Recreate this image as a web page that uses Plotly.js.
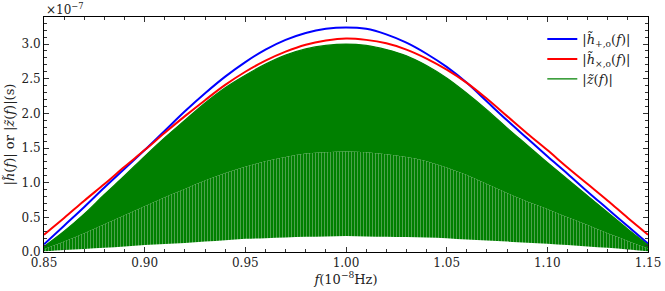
<!DOCTYPE html>
<html>
<head>
<meta charset="utf-8">
<script src="https://cdn.plot.ly/plotly-3.0.1.min.js"></script>
<style>html,body{margin:0;padding:0;background:#fff;}#chart{width:665px;height:291px;}</style>
</head>
<body>
<div id="chart"></div>
<script>
// frequency samples, units of 1e-8 Hz
const freq = [0.85,0.86,0.87,0.88,0.89,0.90,0.91,0.92,0.93,0.94,0.95,0.96,0.97,0.98,0.99,1.00,
              1.01,1.02,1.03,1.04,1.05,1.06,1.07,1.08,1.09,1.10,1.11,1.12,1.13,1.14,1.15];
// amplitudes, units of 1e-7 s
const hPlus = [0.11,0.38,0.65,0.93,1.20,1.47,1.75,2.03,2.29,2.53,2.74,2.92,3.06,3.16,3.22,3.24,
               3.22,3.14,3.02,2.86,2.67,2.44,2.17,1.90,1.64,1.38,1.13,0.87,0.62,0.37,0.12];
const hCross = [0.25,0.49,0.74,0.98,1.23,1.47,1.72,1.96,2.19,2.41,2.60,2.76,2.89,2.99,3.05,3.08,
                3.06,3.01,2.92,2.79,2.63,2.44,2.21,1.96,1.71,1.47,1.22,0.98,0.74,0.49,0.25];
// |z(f)| oscillates rapidly: upper envelope, dense-core boundary, lower envelope
const zUpper = [0.08,0.30,0.55,0.83,1.10,1.38,1.65,1.90,2.15,2.37,2.55,2.71,2.84,2.93,2.98,3.00,
                2.98,2.92,2.83,2.69,2.51,2.29,2.05,1.79,1.54,1.29,1.05,0.81,0.57,0.33,0.10];
const zMid = [0.04,0.15,0.27,0.40,0.53,0.66,0.79,0.91,1.03,1.14,1.23,1.31,1.37,1.42,1.44,1.45,
              1.44,1.41,1.37,1.31,1.22,1.11,0.98,0.85,0.73,0.62,0.50,0.39,0.27,0.16,0.05];
const zLower = [0.01,0.03,0.045,0.06,0.08,0.10,0.115,0.13,0.15,0.17,0.19,0.20,0.21,0.22,0.225,0.23,
                0.225,0.22,0.215,0.21,0.20,0.18,0.165,0.15,0.135,0.12,0.10,0.08,0.06,0.035,0.01];

const serif = "DejaVu Serif";
const green = "#008000";

const traces = [
  {x: freq, y: zLower, mode: "lines", line: {width: 0, shape: "spline"}, showlegend: false, hoverinfo: "skip"},
  {x: freq, y: zMid, mode: "lines", line: {width: 0, shape: "spline"}, fill: "tonexty",
   fillcolor: green,
   fillpattern: {shape: "|", bgcolor: green, fgcolor: "rgb(85,165,85)", size: 3, solidity: 0.3},
   showlegend: false, hoverinfo: "skip"},
  {x: freq, y: zUpper, mode: "lines", line: {width: 0, shape: "spline"}, fill: "tonexty",
   fillcolor: green, showlegend: false, hoverinfo: "skip"},
  {x: freq, y: hPlus, mode: "lines", name: "|<i>h̃</i><sub>+,o</sub>(<i>f</i>)|",
   line: {color: "#0000ff", width: 2, shape: "spline"}},
  {x: freq, y: hCross, mode: "lines", name: "|<i>h̃</i><sub>×,o</sub>(<i>f</i>)|",
   line: {color: "#ff0000", width: 2, shape: "spline"}},
  {x: freq, y: zUpper, mode: "lines", name: "|<i>z̃</i>(<i>f</i>)|",
   line: {color: green, width: 1.2, shape: "spline"}}
];

const axisCommon = {
  showline: true, linecolor: "#000", linewidth: 1, mirror: "ticks",
  ticks: "inside", ticklen: 5, tickwidth: 1, tickcolor: "#333",
  showgrid: false, zeroline: false,
  tickfont: {family: serif, size: 12, color: "#222"}
};

const layout = {
  width: 665, height: 291,
  margin: {l: 44, r: 17, t: 17, b: 39},
  paper_bgcolor: "#fff", plot_bgcolor: "#fff",
  showlegend: true,
  legend: {x: 0.825, y: 0.97, xanchor: "left", yanchor: "top", bgcolor: "rgba(255,255,255,0)",
           traceorder: "normal",
           font: {family: serif, size: 13, color: "#222"}, itemwidth: 30, tracegroupgap: 0},
  xaxis: Object.assign({}, axisCommon, {
    range: [0.85, 1.15], dtick: 0.05, tick0: 0.85, tickformat: ".2f",
    minor: {dtick: 0.01, ticks: "inside", ticklen: 3, tickcolor: "#333", showgrid: false},
    title: {text: "<i>f</i>(10<sup>−8</sup>Hz)", font: {family: serif, size: 13, color: "#222"}, standoff: 3}
  }),
  yaxis: Object.assign({}, axisCommon, {
    range: [0, 3.39], dtick: 0.5, tick0: 0, tickformat: ".1f",
    minor: {dtick: 0.1, ticks: "inside", ticklen: 3, tickcolor: "#333", showgrid: false},
    title: {text: "|<i>h̃</i>(<i>f</i>)| or |<i>z̃</i>(<i>f</i>)|(s)", font: {family: serif, size: 13, color: "#222"}, standoff: 3}
  }),
  annotations: [{
    xref: "paper", yref: "paper", x: 0, y: 1, xanchor: "left", yanchor: "bottom",
    text: "×10<sup>−7</sup>", showarrow: false, font: {family: serif, size: 12, color: "#222"}, yshift: -2
  }]
};

Plotly.newPlot("chart", traces, layout, {staticPlot: true, displayModeBar: false});
</script>
</body>
</html>
